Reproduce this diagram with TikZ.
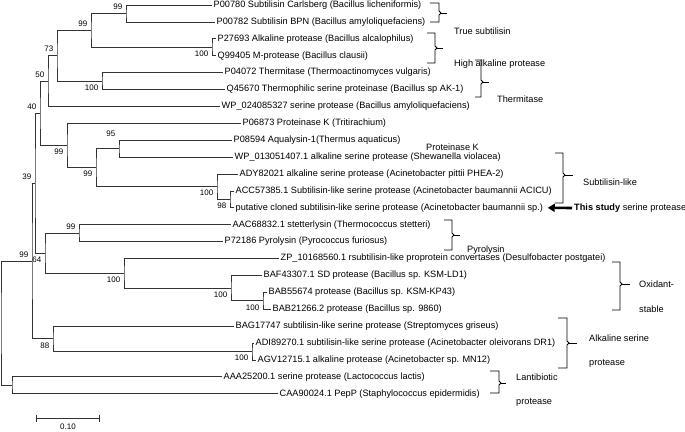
\documentclass[tikz,border=0pt]{standalone}
\usepackage{fontspec}
\setmainfont{Liberation Sans}
\usetikzlibrary{arrows.meta}

\begin{document}
\begin{tikzpicture}[x=1pt,y=-1pt,>=latex,
    branch/.style={draw=black!80,line width=0.7pt},
    leaf/.style={anchor=west,inner sep=1.5pt,font=\fontsize{9.2}{11}\selectfont},
    boot/.style={inner sep=1.5pt,font=\fontsize{8}{9}\selectfont},
    group/.style={anchor=west,inner sep=0pt,font=\fontsize{9.2}{11}\selectfont},
    brak/.style={line width=0.8pt}]
\useasboundingbox (0,0) rectangle (685,431);
% leaves: name / end of branch / row / text
\foreach \n/\x/\i/\t in {
    p00780/212/0/{P00780 Subtilisin Carlsberg (Bacillus licheniformis)},
    p00782/215/1/{P00782 Subtilisin BPN (Bacillus amyloliquefaciens)},
    p27693/216/2/{P27693 Alkaline protease (Bacillus alcalophilus)},
    q99405/216/3/{Q99405 M-protease (Bacillus clausii)},
    p04072/223/4/{P04072 Thermitase (Thermoactinomyces vulgaris)},
    q45670/225/5/{Q45670 Thermophilic serine proteinase (Bacillus sp AK-1)},
    wp024/220/6/{WP\_024085327 serine protease (Bacillus amyloliquefaciens)},
    p06873/241/7/{P06873 Proteinase K (Tritirachium)},
    p08594/232/8/{P08594 Aqualysin-1(Thermus aquaticus)},
    wp013/233/9/{WP\_013051407.1 alkaline serine protease (Shewanella violacea)},
    ady/238/10/{ADY82021 alkaline serine protease (Acinetobacter pittii PHEA-2)},
    acc/234/11/{ACC57385.1 Subtilisin-like serine protease (Acinetobacter baumannii ACICU)},
    putative/234/12/{putative cloned subtilisin-like serine protease (Acinetobacter baumannii sp.)},
    aac/231/13/{AAC68832.1 stetterlysin (Thermococcus stetteri)},
    p72186/223/14/{P72186 Pyrolysin (Pyrococcus furiosus)},
    zp/279/15/{ZP\_10168560.1 rsubtilisin-like proprotein convertases (Desulfobacter postgatei)},
    baf/262/16/{BAF43307.1 SD protease (Bacillus sp. KSM-LD1)},
    bab556/267/17/{BAB55674 protease (Bacillus sp. KSM-KP43)},
    bab212/271/18/{BAB21266.2 protease (Bacillus sp. 9860)},
    bag/234/19/{BAG17747 subtilisin-like serine protease (Streptomyces griseus)},
    adi/254/20/{ADI89270.1 subtilisin-like serine protease (Acinetobacter oleivorans DR1)},
    agv/256/21/{AGV12715.1 alkaline protease (Acinetobacter sp. MN12)},
    aaa/222/22/{AAA25200.1 serine protease (Lactococcus lactis)},
    caa/278/23/{CAA90024.1 PepP (Staphylococcus epidermidis)}}
{
    \node[leaf] (\n) at (\x,{5+16.9*\i}) {\t};
}
% inner nodes
\coordinate (A) at (126,13.45);
\coordinate (HA) at (212,47.25);
\coordinate (B) at (91,30.35);
\coordinate (TH) at (102,81.05);
\coordinate (C) at (57,55.7);
\coordinate (D) at (48,81.05);
\coordinate (J) at (230,199.35);
\coordinate (I) at (217,186.7);
\coordinate (H) at (119,148.65);
\coordinate (G) at (96,167.7);
\coordinate (F) at (67,145.5);
\coordinate (E) at (40,113.3);
\coordinate (PY) at (79,233.15);
\coordinate (O) at (263,300.75);
\coordinate (N) at (231,288.1);
\coordinate (M) at (124,273.3);
\coordinate (L) at (45,253.2);
\coordinate (K39) at (35,183.25);
\coordinate (Q) at (252,351.45);
\coordinate (P) at (53,338.8);
\coordinate (K99) at (32,261);
\coordinate (LA) at (12,385.25);
\coordinate (R) at (1,323.1);
% branches
\draw[branch] (p00780.west) -| (A) |- (p00782.west);
\draw[branch] (p27693.west) -| (HA) |- (q99405.west);
\draw[branch] (A) -| (B) |- (HA);
\draw[branch] (p04072.west) -| (TH) |- (q45670.west);
\draw[branch] (B) -| (C) |- (TH);
\draw[branch] (C) -| (D) |- (wp024.west);
\draw[branch] (acc.west) -| (J) |- (putative.west);
\draw[branch] (ady.west) -| (I) |- (J);
\draw[branch] (p08594.west) -| (H) |- (wp013.west);
\draw[branch] (H) -| (G) |- (I);
\draw[branch] (p06873.west) -| (F) |- (G);
\draw[branch] (D) -| (E) |- (F);
\draw[branch] (aac.west) -| (PY) |- (p72186.west);
\draw[branch] (bab556.west) -| (O) |- (bab212.west);
\draw[branch] (baf.west) -| (N) |- (O);
\draw[branch] (zp.west) -| (M) |- (N);
\draw[branch] (PY) -| (L) |- (M);
\draw[branch] (E) -| (K39) |- (L);
\draw[branch] (adi.west) -| (Q) |- (agv.west);
\draw[branch] (bag.west) -| (P) |- (Q);
\draw[branch] (K39) -| (K99) |- (P);
\draw[branch] (aaa.west) -| (LA) |- (caa.west);
\draw[branch] (K99) -| (R) |- (LA);
% bootstrap values
\node[boot,above left=2pt] (bA) at (A) {99};
\node[boot,above left=2pt] (bB) at (B) {99};
\node[boot,above left=2pt] (bC) at (C) {73};
\node[boot,above left=2pt] (bD) at (D) {50};
\node[boot,above left=2pt] (bE) at (E) {40};
\node[boot,above left=2pt] (bH) at (H |- p08594.west) {95};
\node[boot,above left=2pt] (bK39) at (K39) {39};
\node[boot,above left=2pt] (bK99) at (K99) {99};
\node[boot,above left=2pt] (bPY) at (PY) {99};
\node[boot,below left=2pt] (bHA) at (HA) {100};
\node[boot,below left=2pt] (bTH) at (TH) {100};
\node[boot,below left=2pt] (bF) at (F) {99};
\node[boot,below left=2pt] (bG) at (G) {99};
\node[boot,below left=2pt] (bI) at (I) {100};
\node[boot,below left=2pt] (bJ) at (J) {98};
\node[boot,below left=2pt] (bL) at (L) {64};
\node[boot,below left=2pt] (bM) at (M) {100};
\node[boot,below left=2pt] (bN) at (N) {100};
\node[boot,below left=2pt] (bO) at (O) {100};
\node[boot,below left=2pt] (bP) at (P) {88};
\node[boot,below left=2pt] (bQ) at (Q) {100};
% brackets: left end / vertical / tip / top / bottom / middle
\foreach \xl/\xv/\xs/\yt/\yb/\ym in {430/439/447/3/22/13, 427/435/443/33/63/48,
    475/481/489/60/97/82, 555/563/573/153/203/175, 444/452/460/220/250/235,
    612/620/630/262/310/284, 558/567/577/318/368/343, 490/499/506/371/393/383}
{
    \draw[brak] (\xl,\yt) -- (\xv,\yt) -- (\xv,\ym-2) -- (\xv+2,\ym) -- (\xv,\ym+2) -- (\xv,\yb) -- (\xl,\yb);
    \draw[brak] (\xv+2,\ym) -- (\xs,\ym);
}
\node[group] (gTrue) at (454,31) {True subtilisin};
\node[group] (gHigh) at (454,64) {High alkaline protease};
\node[group] (gTherm) at (497,99) {Thermitase};
\node[group] (gProtK) at (426,147) {Proteinase K};
\node[group] (gSubl) at (583,182) {Subtilisin-like};
\node[group] (gPyro) at (467,250) {Pyrolysin};
\node[group] (gOxi) at (639,284) {Oxidant-};
\node[group] (gOxi2) at (639,309) {stable};
\node[group] (gAlk) at (589,338) {Alkaline serine};
\node[group] (gAlk2) at (589,363) {protease};
\node[group] (gLan) at (516,377) {Lantibiotic};
\node[group] (gLan2) at (516,402) {protease};
\node[group] (study) at (574,208) {\textbf{This study} serine protease};
\draw[-{Triangle[length=7pt,width=8pt]},line width=2.6pt,shorten <=2pt,shorten >=3pt] (study.west) -- (putative.east);
% scale bar
\coordinate (s0) at (36,418);
\coordinate (s1) at (100,418);
\draw[branch,{Bar[width=7pt]}-{Bar[width=7pt]}] (s0) -- (s1);
\node[boot] (scale) at (68,427) {0.10};
\end{tikzpicture}
\end{document}
